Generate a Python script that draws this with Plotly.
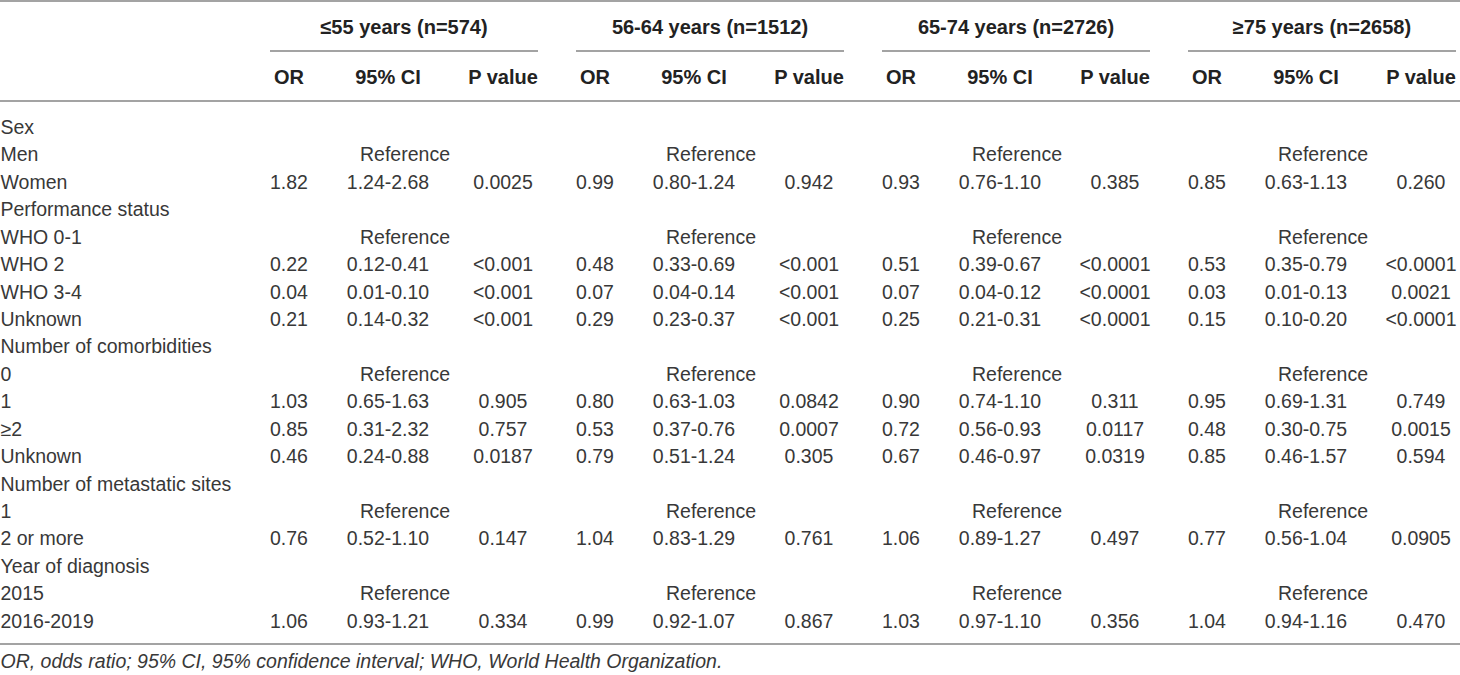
import plotly.graph_objects as go

# Row labels (left column), top to bottom
row_labels = ["Sex", "Men", "Women", "Performance status", "WHO 0-1", "WHO 2", "WHO 3-4",
              "Unknown", "Number of comorbidities", "0", "1", "≥2", "Unknown",
              "Number of metastatic sites", "1", "2 or more", "Year of diagnosis",
              "2015", "2016-2019"]
# which rows say "Reference", which rows carry numbers
reference_rows = [1, 4, 9, 14, 17]
value_rows = [2, 5, 6, 7, 10, 11, 12, 15, 18]

group_names = ["≤55 years (n=574)", "56-64 years (n=1512)",
               "65-74 years (n=2726)", "≥75 years (n=2658)"]
sub_cols = ["OR", "95% CI", "P value"]

# ≤55 years
or_55 = ["1.82", "0.22", "0.04", "0.21", "1.03", "0.85", "0.46", "0.76", "1.06"]
ci_55 = ["1.24-2.68", "0.12-0.41", "0.01-0.10", "0.14-0.32", "0.65-1.63",
         "0.31-2.32", "0.24-0.88", "0.52-1.10", "0.93-1.21"]
p_55 = ["0.0025", "<0.001", "<0.001", "<0.001", "0.905", "0.757", "0.0187", "0.147", "0.334"]

# 56-64 years
or_56 = ["0.99", "0.48", "0.07", "0.29", "0.80", "0.53", "0.79", "1.04", "0.99"]
ci_56 = ["0.80-1.24", "0.33-0.69", "0.04-0.14", "0.23-0.37", "0.63-1.03",
         "0.37-0.76", "0.51-1.24", "0.83-1.29", "0.92-1.07"]
p_56 = ["0.942", "<0.001", "<0.001", "<0.001", "0.0842", "0.0007", "0.305", "0.761", "0.867"]

# 65-74 years
or_65 = ["0.93", "0.51", "0.07", "0.25", "0.90", "0.72", "0.67", "1.06", "1.03"]
ci_65 = ["0.76-1.10", "0.39-0.67", "0.04-0.12", "0.21-0.31", "0.74-1.10",
         "0.56-0.93", "0.46-0.97", "0.89-1.27", "0.97-1.10"]
p_65 = ["0.385", "<0.0001", "<0.0001", "<0.0001", "0.311", "0.0117", "0.0319", "0.497", "0.356"]

# ≥75 years
or_75 = ["0.85", "0.53", "0.03", "0.15", "0.95", "0.48", "0.85", "0.77", "1.04"]
ci_75 = ["0.63-1.13", "0.35-0.79", "0.01-0.13", "0.10-0.20", "0.69-1.31",
         "0.30-0.75", "0.46-1.57", "0.56-1.04", "0.94-1.16"]
p_75 = ["0.260", "<0.0001", "0.0021", "<0.0001", "0.749", "0.0015", "0.594", "0.0905", "0.470"]

footnote = "OR, odds ratio; 95% CI, 95% confidence interval; WHO, World Health Organization."

# layout in page pixels (axes run 0..1460 and 0..675)
W, H = 1460, 675
ROW0, ROW_H = 129, 27.44
HEAD1_Y, HEAD2_Y, NOTE_Y = 29, 79, 663
GROUP_X0, GROUP_STEP, GROUP_W = 270, 306, 268
COL_OFF = [19, 118, 233]
REF_OFF = 135
LINE_COLOR = "#a3a3a3"
TEXT_COLOR = "#383838"
FONT = "Liberation Sans, Arial, sans-serif"


def row_y(i):
    return ROW0 + i * ROW_H


def text_trace(xs, ys, texts, size=19.5, weight="normal", style="normal",
               pos="middle center", color=TEXT_COLOR):
    return go.Scatter(x=xs, y=ys, text=texts, mode="text", textposition=pos,
                      textfont=dict(family=FONT, size=size, color=color,
                                    weight=weight, style=style),
                      hoverinfo="skip", showlegend=False)


def build_table():
    fig = go.Figure()
    groups = [(or_55, ci_55, p_55), (or_56, ci_56, p_56),
              (or_65, ci_65, p_65), (or_75, ci_75, p_75)]

    # left column labels
    fig.add_trace(text_trace([0.5] * len(row_labels), [row_y(i) for i in range(len(row_labels))],
                             row_labels, pos="middle right"))

    for g, (ors, cis, ps) in enumerate(groups):
        gx = GROUP_X0 + g * GROUP_STEP
        # group heading + its underline
        fig.add_trace(text_trace([gx + GROUP_W / 2], [HEAD1_Y], [group_names[g]], size=20,
                                 weight="bold", color="#222222"))
        fig.add_shape(type="line", x0=gx, x1=gx + GROUP_W, y0=51, y1=51,
                      line=dict(color=LINE_COLOR, width=2))
        # sub headers
        fig.add_trace(text_trace([gx + o for o in COL_OFF], [HEAD2_Y] * 3, sub_cols, size=20,
                                 weight="bold", color="#222222"))
        # reference rows
        fig.add_trace(text_trace([gx + REF_OFF] * len(reference_rows),
                                 [row_y(i) for i in reference_rows],
                                 ["Reference"] * len(reference_rows)))
        # numbers
        for col, vals in zip(COL_OFF, (ors, cis, ps)):
            fig.add_trace(text_trace([gx + col] * len(vals), [row_y(i) for i in value_rows], vals))

    # full width rules
    for y in (1, 101, 644):
        fig.add_shape(type="line", x0=0, x1=W, y0=y, y1=y, line=dict(color=LINE_COLOR, width=2))

    fig.add_trace(text_trace([0.5], [NOTE_Y], [footnote], style="italic", pos="middle right"))

    fig.update_layout(width=W, height=H, margin=dict(l=0, r=0, t=0, b=0),
                      paper_bgcolor="white", plot_bgcolor="white",
                      xaxis=dict(range=[0, W], visible=False, fixedrange=True),
                      yaxis=dict(range=[H, 0], visible=False, fixedrange=True))
    return fig


if __name__ == '__main__':
    fig = build_table()
    # browser default body margin would push the table 8px off the page
    fig.write_html("out.html", config={"displayModeBar": False},
                   post_script="document.body.style.margin='0px';")
